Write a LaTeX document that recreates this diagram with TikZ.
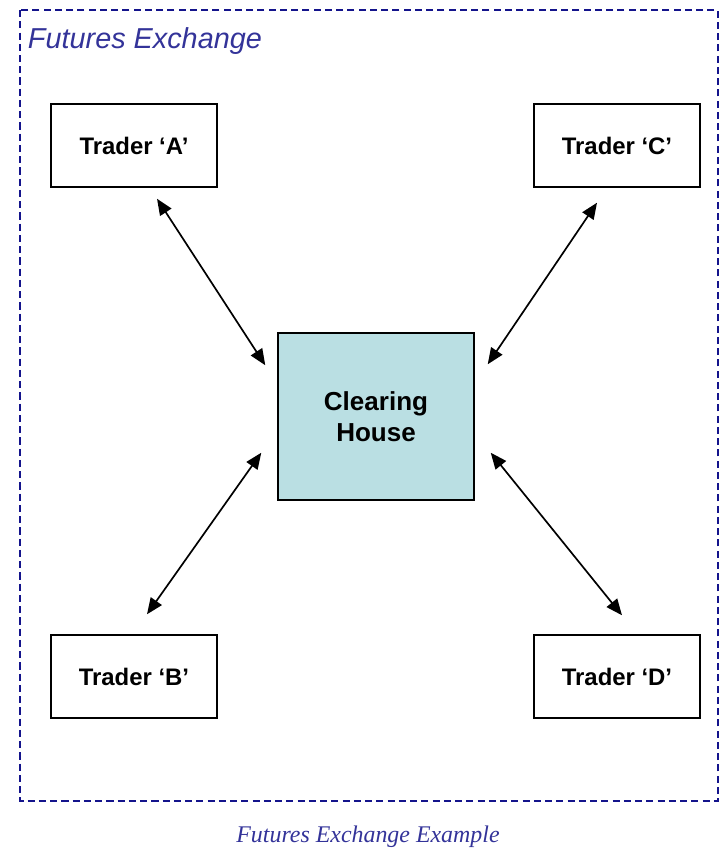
\documentclass[tikz,border=0pt]{standalone}
\usepackage{fontspec}
\setmainfont{Liberation Sans}
\newfontfamily\captionserif{Liberation Serif}
\usetikzlibrary{arrows.meta,
                calc,
                positioning
            }
\definecolor{exblue}{RGB}{51,51,153}
\definecolor{borderblue}{RGB}{20,20,140}
\definecolor{housefill}{RGB}{186,223,227}

\begin{document}
\begin{tikzpicture}[x=0.025cm, y=-0.025cm,
        trader/.style={draw, line width=1pt, minimum width=4.15cm, minimum height=2.075cm,
                       font=\fontsize{17}{20}\selectfont\bfseries},
        house/.style={draw, line width=1pt, fill=housefill, align=center,
                      minimum width=4.9cm, minimum height=4.175cm,
                      font=\fontsize{18.5}{22}\selectfont\bfseries},
        link/.style={{Triangle[length=11.5pt,width=9.5pt]}-{Triangle[length=11.5pt,width=9.5pt]}, line width=1.2pt}]
            \useasboundingbox (0,0) rectangle (721,849);
            % exchange frame and its title
            \draw[borderblue, line width=1.2pt, dash pattern=on 5pt off 3pt] (20,10) rectangle (718,801);
            \node[anchor=base west, text=exblue, font=\fontsize{20.5}{24}\selectfont\itshape] (title) at (23,48) {Futures Exchange};

            \node[house] (ch) at (376,416.5) {Clearing\\House};
            \node[trader] (ta) at (134,145.5) {Trader ‘A’};
            \node[trader] (tc) at (617,145.5) {Trader ‘C’};
            \node[trader] (tb) at (134,676.5) {Trader ‘B’};
            \node[trader] (td) at (617,676.5) {Trader ‘D’};

            \draw[link] ($(ta.south)+(23,11)$) -- ($(ch.north west)+(-12,33)$);
            \draw[link] ($(tc.south)+(-20,15)$) -- ($(ch.north east)+(13,32)$);
            \draw[link] ($(tb.north)+(13,-20)$) -- ($(ch.south west)+(-16,-48)$);
            \draw[link] ($(td.north)+(5,-19)$) -- ($(ch.south east)+(16,-48)$);

            \node[anchor=base, text=exblue, font=\captionserif\fontsize{17}{20}\selectfont\itshape] (caption) at (368,842) {Futures Exchange Example};
        \end{tikzpicture}
\end{document}
